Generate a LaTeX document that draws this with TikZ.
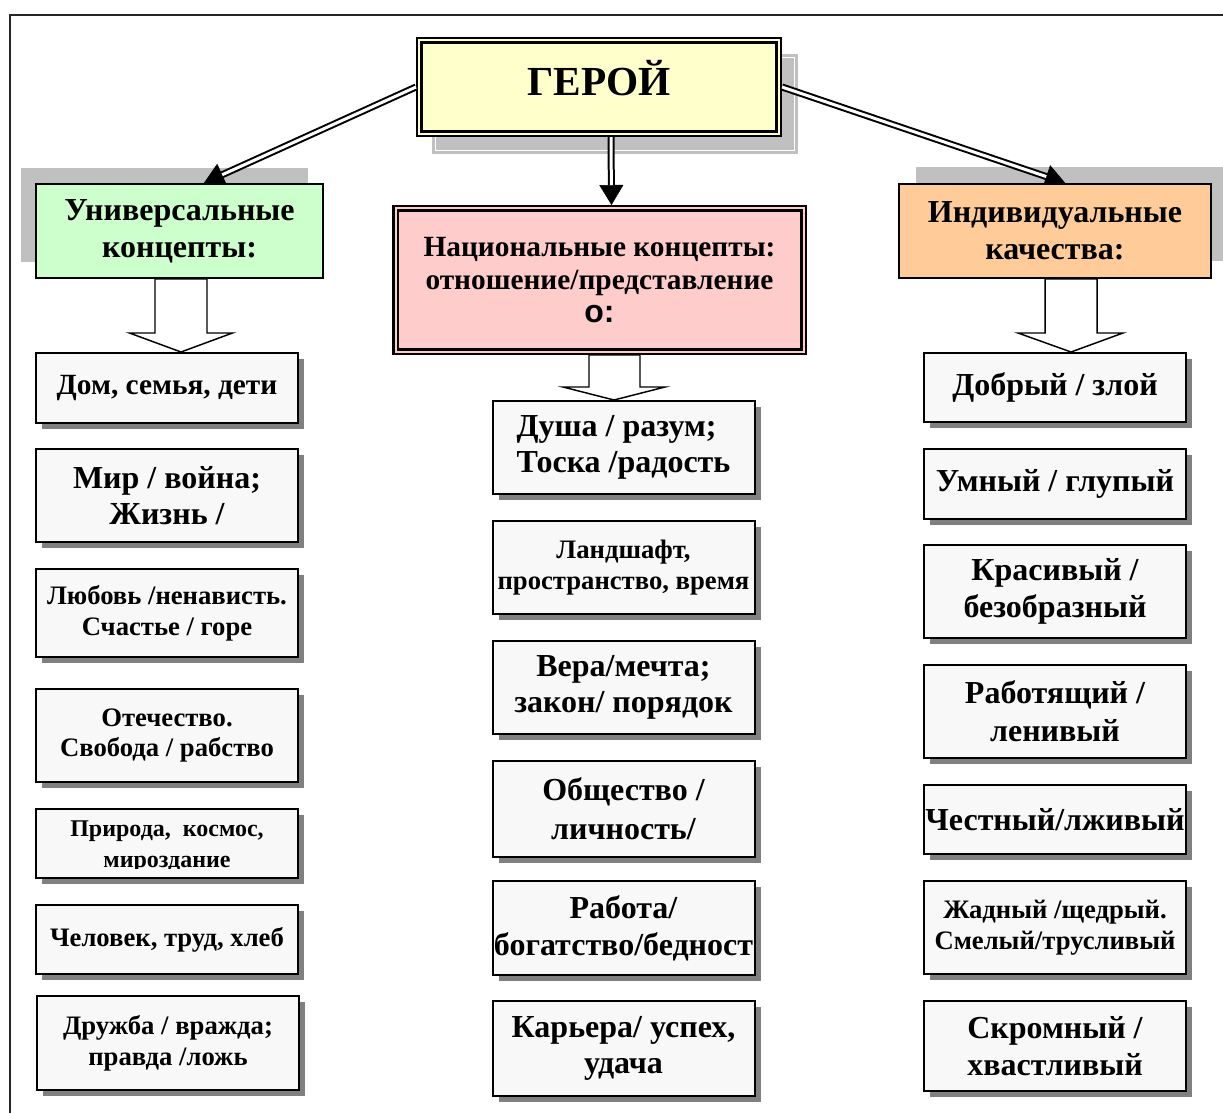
\documentclass[tikz,border=0pt]{standalone}
\usepackage{fontspec}
\setmainfont{Liberation Serif}
\newfontfamily\sansbold{Liberation Sans}
\usetikzlibrary{arrows.meta,shadows,calc}

\definecolor{heroyellow}{HTML}{FFFFCC}
\definecolor{unigreen}{HTML}{CCFFCC}
\definecolor{natpink}{HTML}{FFCCCC}
\definecolor{indorange}{HTML}{FFCC99}
\definecolor{itemgray}{HTML}{F8F8F8}
\definecolor{shadowgray}{HTML}{808080}
\definecolor{pageshadow}{HTML}{C0C0C0}

\newcommand\fsz[2]{\fontsize{#1}{#2}\selectfont\bfseries}

\tikzset{every picture/.style={line width=0.75pt}}

\begin{document}
\begin{tikzpicture}[x=0.75pt,y=0.75pt,yscale=-1,xscale=1,
	hero/.style={draw, double=heroyellow, double distance=1.5pt, line width=1.8pt, fill=heroyellow, outer sep=2.55pt,
		minimum width=269.4pt, minimum height=70pt, font=\fsz{31}{38}, text depth=14pt,
		drop shadow={shadow xshift=12pt, shadow yshift=-12.75pt, opacity=1, fill=pageshadow, draw=pageshadow, double=white, double distance=0.6pt, line width=2.2pt}},
	natbox/.style={draw, double=natpink, double distance=1.5pt, line width=1.8pt, fill=natpink, outer sep=2.55pt,
		minimum width=306pt, minimum height=107.4pt, align=center, font=\fsz{22}{25}},
	header/.style={draw, line width=1.5pt, minimum height=70.5pt, align=center, font=\fsz{24}{27.5}},
	itembox/.style={draw, line width=1.5pt, fill=itemgray, minimum width=196.5pt, align=center, inner sep=1pt,
		drop shadow={shadow xshift=4.5pt, shadow yshift=-4.5pt, opacity=1, fill=shadowgray}},
	bigtext/.style={font=\fsz{24}{27.5}},
	smalltext/.style={font=\fsz{20}{23}},
	dblarrow/.style={line width=5.25pt, -{Triangle[length=15pt,width=18pt,line width=0.4pt]},
		postaction={draw=white, line width=2.25pt, -, shorten >=15pt}},
	hollow/.style={draw, fill=white, line width=1.1pt, line join=miter}]

\useasboundingbox (0,0) rectangle (1223,1113);

% page frame
\draw[line width=1.5pt, black!85] (10,1113) -- (10,15) -- (1223,15);

% title and the three groups
\node[hero] (hero) at (599,87) {ГЕРОЙ};
\node[header, fill=unigreen, minimum width=215.3pt,
	drop shadow={shadow xshift=-11.25pt, shadow yshift=12pt, opacity=1, fill=pageshadow}] (uni) at (179.5,231) {Универсальные\\концепты:};
\node[natbox] (nat) at (599.5,280) {Национальные концепты:\\отношение/представление\\{\sansbold\fontsize{24}{25}\selectfont о:}};
\node[header, fill=indorange, minimum width=234pt,
	drop shadow={shadow xshift=12.75pt, shadow yshift=12.75pt, opacity=1, fill=pageshadow}] (ind) at (1055,231) {Индивидуальные\\качества:};

% left column
\node[itembox, minimum height=52.5pt, font=\fsz{22}{25}] (l1) at (167,388) {Дом, семья, дети};
\node[itembox, bigtext, minimum height=69.75pt] (l2) at (167,495.5) {Мир / война;\\Жизнь /};
\node[itembox, smalltext, minimum height=66pt] (l3) at (167,613) {Любовь /ненависть.\\Счастье / горе};
\node[itembox, smalltext, minimum height=69.75pt] (l4) at (167,735.5) {Отечество.\\Свобода / рабство};
\node[itembox, minimum height=51.75pt] (l5) at (167,843.5) {};
\node[font=\fsz{18}{23}, align=center, inner sep=0pt] (l5text) at ($(l5)+(0,3)$) {Природа,~ космос,\\мироздание};
\fill[itemgray] ($(l5.south west)+(2,-2)$) rectangle ($(l5.south east)+(-2,-10)$);
\node[itembox, smalltext, minimum height=51.75pt] (l6) at (167,939.5) {Человек, труд, хлеб};
\node[itembox, smalltext, minimum height=70.5pt] (l7) at (168,1043) {Дружба / вражда;\\правда /ложь};

% middle column
\node[itembox, bigtext, minimum height=69.75pt, align=left] (m1) at (623.5,447.5) {Душа / разум;\\Тоска /радость};
\node[itembox, smalltext, minimum height=69.75pt] (m2) at (623.5,567.5) {Ландшафт,\\пространство, время};
\node[itembox, bigtext, minimum height=69.75pt] (m3) at (623.5,687.5) {Вера/мечта;\\закон/ порядок};
\node[itembox, bigtext, minimum height=72pt, font=\fsz{24}{29}] (m4) at (623.5,809) {Общество /\\личность/};
\node[itembox, bigtext, minimum height=70.5pt] (m5) at (623.5,928) {Работа/\\богатство/бедност};
\node[itembox, bigtext, minimum height=71.25pt] (m6) at (623.5,1048.5) {Карьера/ успех,\\удача};

% right column
\node[itembox, bigtext, minimum height=51.75pt] (r1) at (1055,387.5) {Добрый / злой};
\node[itembox, bigtext, minimum height=52.5pt] (r2) at (1055,484) {Умный / глупый};
\node[itembox, bigtext, minimum height=69.75pt] (r3) at (1055,591.5) {Красивый /\\безобразный};
\node[itembox, bigtext, minimum height=69.75pt, font=\fsz{24}{28.5}] (r4) at (1055,711.5) {Работящий /\\ленивый};
\node[itembox, bigtext, minimum height=51.75pt] (r5) at (1055,819.5) {Честный/лживый};
\node[itembox, smalltext, minimum height=69.75pt] (r6) at (1055,927.5) {Жадный /щедрый.\\Смелый/трусливый};
\node[itembox, bigtext, minimum height=67.5pt] (r7) at (1055,1046) {Скромный /\\хвастливый};

% double arrows from the title
\begin{scope}
	\clip (0,0) rectangle (1223,183);
	\draw[dblarrow] (hero.west) -- (uni.63);
	\draw[dblarrow] (hero.east) -- (ind.78);
\end{scope}
\draw[dblarrow] ($(hero.south)+(12,0)$) -- ($(nat.north)+(12,0)$);

% hollow block arrows down to the lists
\draw[hollow] ($(uni.south)+(-24.5,0)$) -- ++(0,54) -- ++(-25.5,0) -- ($(l1.north)+(14,0)$) -- ++(51.5,-19) -- ++(-25.5,0) -- ++(0,-54) -- cycle;
\draw[hollow] ($(nat.south)+(-10.5,0)$) -- ++(0,32) -- ++(-26,0) -- ($(m1.north)+(-9.5,0)$) -- ++(51,-13) -- ++(-25,0) -- ++(0,-32) -- cycle;
\draw[hollow] ($(ind.south)+(-10,0)$) -- ++(0,54) -- ++(-27,0) -- ($(r1.north)+(16,0)$) -- ++(52,-19) -- ++(-26,0) -- ++(0,-54) -- cycle;

\end{tikzpicture}
\end{document}
